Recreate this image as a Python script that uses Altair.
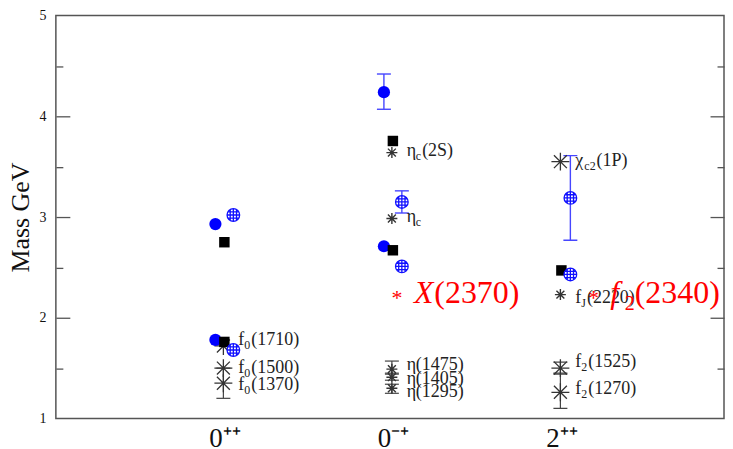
import altair as alt
import pandas as pd

# ---------------- data ----------------
# category index on x: 1 = 0++, 2 = 0-+, 3 = 2++
cat_values = [1, 2, 3]
cat_labels = ["0⁺⁺", "0⁻⁺", "2⁺⁺"]

# lattice set A (blue filled circles)
a_cat = [1, 1, 2, 2]
a_mass = [2.93, 1.78, 4.24, 2.71]
a_err_cat = [2]
a_err_lo = [4.07]
a_err_hi = [4.42]

# lattice set B (blue hatched circles)
b_cat = [1, 1, 2, 2, 3, 3]
b_mass = [3.02, 1.68, 3.15, 2.51, 3.19, 2.43]
b_err_cat = [2, 3]
b_err_lo = [3.04, 2.77]
b_err_hi = [3.26, 3.61]

# lattice set C (black squares)
c_cat = [1, 1, 2, 2, 3]
c_mass = [2.75, 1.76, 3.755, 2.67, 2.47]

# experimental states (asterisks)
big_cat = [1, 1, 1, 3, 3, 3]
big_mass = [1.72, 1.50, 1.35, 3.55, 1.50, 1.26]
small_cat = [2, 2, 2, 2, 2, 3]
small_mass = [3.64, 2.985, 1.49, 1.41, 1.30, 2.23]

exp_err_cat = [1, 2, 2, 2, 3, 3]
exp_err_lo = [1.20, 1.45, 1.38, 1.25, 1.45, 1.10]
exp_err_hi = [1.50, 1.57, 1.44, 1.34, 1.56, 1.44]

# state labels
lab_cat = [1, 1, 1, 2, 2, 2, 2, 2, 3, 3, 3, 3]
lab_mass = [1.78, 1.50, 1.335, 3.66, 3.00, 1.53, 1.395, 1.26, 3.56, 2.195, 1.56, 1.29]
lab_base = ["f", "f", "f", "η", "η", "η", "η", "η", "χ", "f", "f", "f"]
lab_sub = ["0", "0", "0", "c", "c", "", "", "", "c2", "J", "2", "2"]
lab_rest = ["(1710)", "(1500)", "(1370)", "(2S)", "", "(1475)", "(1405)", "(1295)",
            "(1P)", "(2220)", "(1525)", "(1270)"]

# red annotations
ann_x = [2.024, 3.19]
ann_mass = [2.25, 2.25]
ann_mark = ["*", "*"]
ann_base = ["X", "f"]
ann_sub = ["", "2"]
ann_rest = ["(2370)", "(2340)"]

# ---------------- layout / style ----------------
W, H = 670, 404
XMIN, XMAX = 0, 3.965
PXU = W / (XMAX - XMIN)
SERIF = "Liberation Serif"
LABEL_FS = 18
SUB_FS = 12
LABEL_DX = 14
RED_FS = 32
RED_SUB_FS = 20
RED_DX = 17
BLUE = "#0000ff"
BLUE_BAR = "#4646ff"
GREY = "#444444"

EM = {"(": 0.333, ")": 0.333, "f": 0.333, "η": 0.5, "χ": 0.5, "c": 0.444,
      "J": 0.389, "S": 0.556, "P": 0.556, "X": 0.722}
EM_ITALIC = {"X": 0.64, "f": 0.45}


def text_width(s, size, italic=False):
    table = EM_ITALIC if italic else EM
    return sum(table.get(ch, EM.get(ch, 0.5)) for ch in s) * size


HATCH = ("M -1 0 A 1 1 0 1 1 1 0 A 1 1 0 1 1 -1 0 Z "
         "M -0.5 -0.866 L -0.5 0.866 M 0 -1 L 0 1 M 0.5 -0.866 L 0.5 0.866 "
         "M -0.866 -0.5 L 0.866 -0.5 M -1 0 L 1 0 M -0.866 0.5 L 0.866 0.5")
STAR = ("M -1 0 L 1 0 M 0 -1 L 0 1 M -0.72 -0.72 L 0.72 0.72 "
        "M -0.72 0.72 L 0.72 -0.72")

# ---------------- tables ----------------
A = pd.DataFrame({"cat": a_cat, "m": a_mass})
B = pd.DataFrame({"cat": b_cat, "m": b_mass})
C = pd.DataFrame({"cat": c_cat, "m": c_mass})
BIG = pd.DataFrame({"cat": big_cat, "m": big_mass})
SMALL = pd.DataFrame({"cat": small_cat, "m": small_mass})

EXP_ERR = pd.DataFrame({"cat": exp_err_cat, "lo": exp_err_lo, "hi": exp_err_hi})
A_ERR = pd.DataFrame({"cat": a_err_cat, "lo": a_err_lo, "hi": a_err_hi})
B_ERR = pd.DataFrame({"cat": b_err_cat, "lo": b_err_lo, "hi": b_err_hi})


def caps(df):
    return pd.DataFrame({"cat": list(df["cat"]) * 2, "v": list(df["lo"]) + list(df["hi"])})


LAB = pd.DataFrame({"cat": lab_cat, "m": lab_mass, "base": lab_base,
                    "sub": lab_sub, "rest": lab_rest})
LAB["x_sub"] = LAB["cat"] + LAB["base"].map(lambda s: text_width(s, LABEL_FS)) / PXU
LAB["x_rest"] = LAB["x_sub"] + LAB["sub"].map(
    lambda s: text_width(s, SUB_FS) + (1 if s else 0)) / PXU

ANN = pd.DataFrame({"x": ann_x, "m": ann_mass, "mark": ann_mark, "base": ann_base,
                    "sub": ann_sub, "rest": ann_rest})
ANN["x_sub"] = ANN["x"] + ANN["base"].map(lambda s: text_width(s, RED_FS, True)) / PXU
ANN["x_rest"] = ANN["x_sub"] + ANN["sub"].map(lambda s: text_width(s, RED_SUB_FS)) / PXU

# ---------------- scales / axes ----------------
xscale = alt.Scale(domain=[XMIN, XMAX], nice=False, zero=False)
yscale = alt.Scale(domain=[1, 5], nice=False, zero=False)

label_expr = " : ".join(
    f"datum.value == {v} ? '{t}'" for v, t in zip(cat_values[:-1], cat_labels[:-1])
) + f" : '{cat_labels[-1]}'"

x_axis = alt.Axis(orient="bottom", values=cat_values, labelExpr=label_expr,
                  ticks=False, domain=False, grid=False, labelFont=SERIF,
                  labelFontSize=27, labelPadding=7, labelColor="#111111",
                  labelAlign="center", labelBaseline="top", labelFlush=False,
                  title=None)
y_axis = alt.Axis(orient="left", values=[1, 2, 3, 4, 5], ticks=False, tickSize=0,
                  domain=False, grid=False, labelPadding=10, labelFont=SERIF,
                  labelFontSize=14, labelColor="#111111", title="Mass GeV",
                  titleFont=SERIF, titleFontSize=26, titleFontWeight="normal",
                  titleColor="#111111", titlePadding=5, minExtent=0)


def X(field):
    # every layer carries the same x axis so that the shared axis merges cleanly
    return alt.X(f"{field}:Q", scale=xscale, axis=x_axis)


def Yn(field):
    return alt.Y(f"{field}:Q", scale=yscale, axis=None)


def tick_axis(orient, values, size):
    return alt.Axis(orient=orient, offset=-W, values=values, tickSize=size,
                    labels=False, domain=False, grid=False, title=None, ticks=True,
                    tickColor="#555555", tickWidth=1.3, minExtent=0)


major = [2, 3, 4]
minor = [1.5, 2.5, 3.5, 4.5]

# ---------------- layers ----------------
exp_rules = alt.Chart(EXP_ERR).mark_rule(color=GREY, strokeWidth=1.2, xOffset=-1).encode(
    x=X("cat"),
    y=alt.Y("lo:Q", scale=yscale, axis=tick_axis("right", major, 14)),
    y2="hi:Q",
)
exp_caps = alt.Chart(caps(EXP_ERR)).mark_tick(
    orient="horizontal", color=GREY, thickness=1.2, size=14, xOffset=-1, opacity=1
).encode(
    x=X("cat"),
    y=alt.Y("v:Q", scale=yscale, axis=tick_axis("right", minor, 7)),
)
a_rules = alt.Chart(A_ERR).mark_rule(color=BLUE_BAR, strokeWidth=1.4, xOffset=-9).encode(
    x=X("cat"),
    y=alt.Y("lo:Q", scale=yscale, axis=tick_axis("left", major, 14)),
    y2="hi:Q",
)
a_caps = alt.Chart(caps(A_ERR)).mark_tick(
    orient="horizontal", color=BLUE_BAR, thickness=1.4, size=14, xOffset=-9, opacity=1
).encode(
    x=X("cat"),
    y=alt.Y("v:Q", scale=yscale, axis=tick_axis("left", minor, 7)),
)
b_rules = alt.Chart(B_ERR).mark_rule(color=BLUE_BAR, strokeWidth=1.4, xOffset=9).encode(
    x=X("cat"), y=Yn("lo"), y2="hi:Q",
)
b_caps = alt.Chart(caps(B_ERR)).mark_tick(
    orient="horizontal", color=BLUE_BAR, thickness=1.4, size=14, xOffset=9, opacity=1
).encode(x=X("cat"), y=Yn("v"))

big_stars = alt.Chart(BIG).mark_point(
    shape=STAR, size=324, filled=False, stroke="#333333", strokeWidth=1.3, opacity=1, xOffset=-1
).encode(x=X("cat"), y=Yn("m"))
small_stars = alt.Chart(SMALL).mark_point(
    shape=STAR, size=121, filled=False, stroke="#333333", strokeWidth=1.4, opacity=1, xOffset=-1
).encode(x=X("cat"), y=Yn("m"))

a_pts = alt.Chart(A).mark_point(
    shape="circle", size=150, filled=True, color=BLUE, opacity=1, xOffset=-9
).encode(
    x=X("cat"),
    y=alt.Y("m:Q", scale=yscale, axis=y_axis),
)
c_pts = alt.Chart(C).mark_point(
    shape="square", size=110, filled=True, color="black", opacity=1
).encode(x=X("cat"), y=Yn("m"))
b_pts = alt.Chart(B).mark_point(
    shape=HATCH, size=160, filled=False, fill="white", fillOpacity=1, stroke="#1010ff",
    strokeWidth=1.3, opacity=1, xOffset=9
).encode(x=X("cat"), y=Yn("m"))

txt = dict(align="left", baseline="middle", font=SERIF, color="#222222")
lab_base_l = alt.Chart(LAB).mark_text(fontSize=LABEL_FS, dx=LABEL_DX, **txt).encode(
    x=X("cat"), y=Yn("m"), text="base:N")
lab_sub_l = alt.Chart(LAB).mark_text(fontSize=SUB_FS, dx=LABEL_DX, dy=5, **txt).encode(
    x=X("x_sub"), y=Yn("m"), text="sub:N")
lab_rest_l = alt.Chart(LAB).mark_text(fontSize=LABEL_FS, dx=LABEL_DX, **txt).encode(
    x=X("x_rest"), y=Yn("m"), text="rest:N")

red = dict(baseline="middle", font=SERIF, color="#ff0000")
ann_mark_l = alt.Chart(ANN).mark_text(align="center", fontSize=22, dy=5, **red).encode(
    x=X("x"), y=Yn("m"), text="mark:N")
ann_base_l = alt.Chart(ANN).mark_text(align="left", fontSize=RED_FS, fontStyle="italic",
                                      dx=RED_DX, **red).encode(
    x=X("x"), y=Yn("m"), text="base:N")
ann_sub_l = alt.Chart(ANN).mark_text(align="left", fontSize=RED_SUB_FS, dx=RED_DX, dy=11,
                                     **red).encode(
    x=X("x_sub"), y=Yn("m"), text="sub:N")
ann_rest_l = alt.Chart(ANN).mark_text(align="left", fontSize=RED_FS, dx=RED_DX, **red).encode(
    x=X("x_rest"), y=Yn("m"), text="rest:N")

chart = alt.layer(
    exp_rules, exp_caps, a_rules, a_caps, b_rules, b_caps,
    big_stars, small_stars, a_pts, c_pts, b_pts,
    lab_base_l, lab_sub_l, lab_rest_l,
    ann_mark_l, ann_base_l, ann_sub_l, ann_rest_l,
).resolve_axis(y="independent").properties(
    width=W, height=H, padding={"left": 0, "top": 0, "right": 0, "bottom": 0},
    background="white",
).configure_view(stroke="#555555", strokeWidth=1.5)

chart.save("out.html", embed_options={"renderer": "svg", "actions": False})
